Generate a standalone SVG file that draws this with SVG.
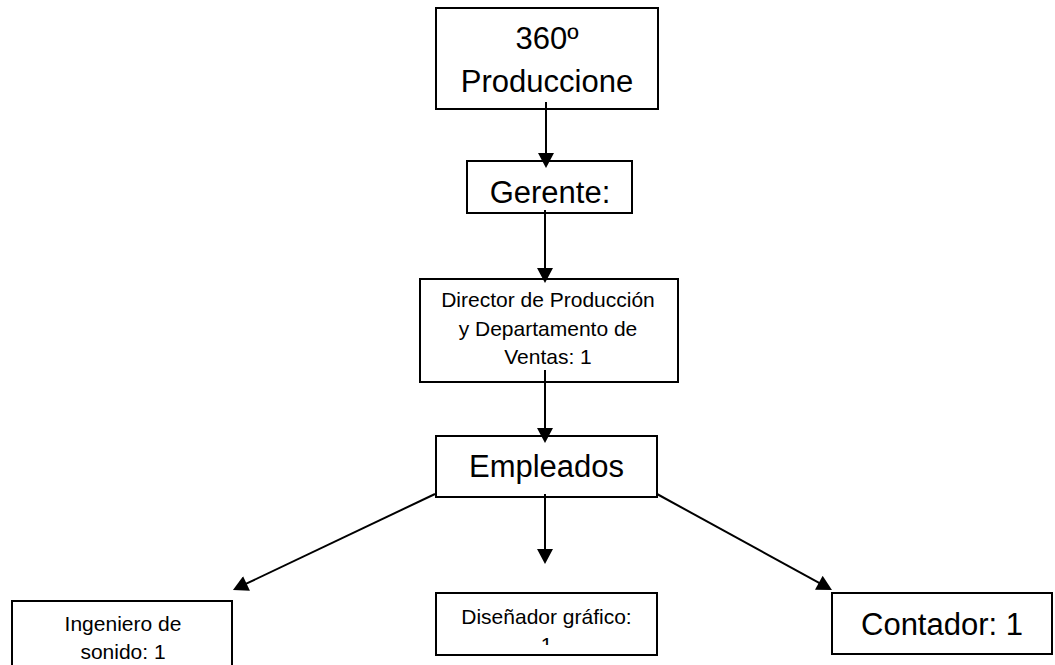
<svg xmlns="http://www.w3.org/2000/svg" width="1055" height="665" viewBox="0 0 1055 665">
  <style>
    .box { fill: #ffffff; stroke: #000000; stroke-width: 2; }
    .big { font-family: "Liberation Sans", Arial, sans-serif; font-size: 31px; fill: #000000; text-anchor: middle; }
    .small { font-family: "Liberation Sans", Arial, sans-serif; font-size: 21px; fill: #000000; text-anchor: middle; }
    .conn { stroke: #000000; stroke-width: 2; fill: none; marker-end: url(#arrow); }
  </style>
  <defs>
    <marker id="arrow" markerUnits="userSpaceOnUse" markerWidth="16" markerHeight="16" viewBox="0 0 15 16" refX="5" refY="8" orient="auto">
      <path d="M0,0 L15,8 L0,16 Z" fill="#000000"/>
    </marker>
    <clipPath id="clipDis">
      <rect x="436" y="593" width="221" height="52"/>
    </clipPath>
  </defs>
  <rect width="1055" height="665" fill="#ffffff"/>

  <g id="node-produccione">
    <rect class="box" x="436" y="8" width="222" height="101"/>
    <text class="big" x="547" y="49">360º</text>
    <text class="big" x="547" y="92">Produccione</text>
  </g>

  <g id="node-gerente">
    <rect class="box" x="467" y="161" width="165" height="52"/>
    <text class="big" x="550" y="203">Gerente:</text>
  </g>

  <g id="node-director">
    <rect class="box" x="420" y="279" width="258" height="103"/>
    <text class="small" x="548" y="307">Director de Producción</text>
    <text class="small" x="548" y="336">y Departamento de</text>
    <text class="small" x="548" y="364">Ventas: 1</text>
  </g>

  <g id="node-empleados">
    <rect class="box" x="436" y="436" width="221" height="61"/>
    <text class="big" x="546.5" y="477">Empleados</text>
  </g>

  <g id="node-ingeniero">
    <rect class="box" x="12" y="601" width="220" height="100"/>
    <text class="small" x="123" y="631">Ingeniero de</text>
    <text class="small" x="123" y="659">sonido: 1</text>
  </g>

  <g id="node-disenador">
    <rect class="box" x="436" y="593" width="221" height="62"/>
    <g clip-path="url(#clipDis)">
      <text class="small" x="546.5" y="624">Diseñador gráfico:</text>
      <text class="small" x="546.5" y="652">1</text>
    </g>
  </g>

  <g id="node-contador">
    <rect class="box" x="832" y="593" width="220" height="61"/>
    <text class="big" x="942" y="635">Contador: 1</text>
  </g>

  <g id="connectors">
    <line class="conn" x1="546" y1="102" x2="546" y2="158"/>
    <line class="conn" x1="545" y1="210" x2="545" y2="273"/>
    <line class="conn" x1="545" y1="370" x2="545" y2="433"/>
    <line class="conn" x1="545" y1="494" x2="545" y2="554"/>
    <line class="conn" x1="435" y1="494" x2="242" y2="585.7"/>
    <line class="conn" x1="657" y1="494" x2="823.2" y2="585.2"/>
  </g>
</svg>
